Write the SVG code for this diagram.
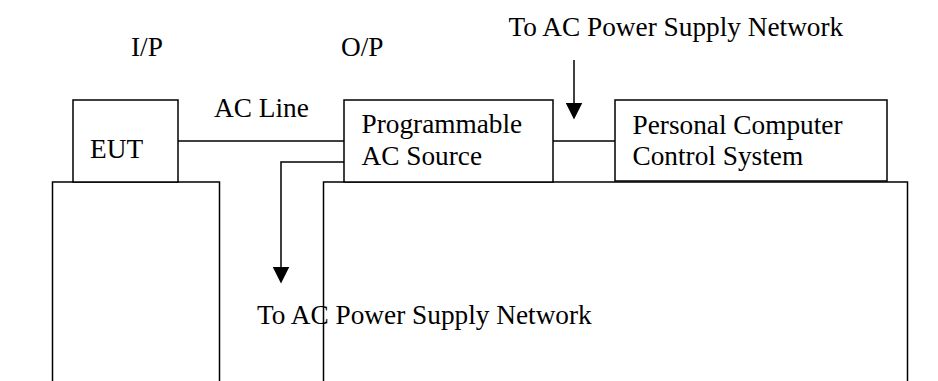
<svg xmlns="http://www.w3.org/2000/svg" width="938" height="381" viewBox="0 0 938 381">
<style>
.box{fill:#fff;stroke:#000;stroke-width:1.5}
.ln{fill:none;stroke:#000;stroke-width:1.5}
.t{font-family:"Liberation Serif","Times New Roman",serif;font-size:27.3px;fill:#000}
</style>
<defs>
<marker id="ah" viewBox="0 0 17 17" refX="12" refY="8.5" markerWidth="17" markerHeight="17" orient="auto" markerUnits="userSpaceOnUse">
<path d="M0,0 L17,8.5 L0,17 z" fill="#000"/>
</marker>
</defs>
<rect width="938" height="381" fill="#fff"/>
<g id="base-left"><path class="ln" d="M52.5,381 V182 H219.5 V381"/></g>
<g id="base-right"><path class="ln" d="M323.5,381 V182 H907.5 V381"/></g>
<g id="eut"><rect class="box" x="73" y="100" width="105" height="82"/><text class="t" x="90" y="158">EUT</text></g>
<g id="source"><rect class="box" x="344" y="100" width="209" height="82"/><text class="t" x="361.5" y="133">Programmable</text><text class="t" x="361.5" y="165">AC Source</text></g>
<g id="pc"><rect class="box" x="615" y="100" width="272" height="81"/><text class="t" x="632.5" y="134">Personal Computer</text><text class="t" x="632.5" y="165">Control System</text></g>
<g id="connectors">
<path class="ln" d="M178,141 H344"/>
<path class="ln" d="M553,141 H615"/>
<path class="ln" d="M344,162 H281 V278.5" marker-end="url(#ah)"/>
<path class="ln" d="M574,60 V114.5" marker-end="url(#ah)"/>
</g>
<g id="labels">
<text class="t" x="131" y="56">I/P</text>
<text class="t" x="341" y="56">O/P</text>
<text class="t" x="214" y="117">AC Line</text>
<text class="t" x="508.5" y="36">To AC Power Supply Network</text>
<text class="t" x="257" y="324">To AC Power Supply Network</text>
</g>
</svg>
